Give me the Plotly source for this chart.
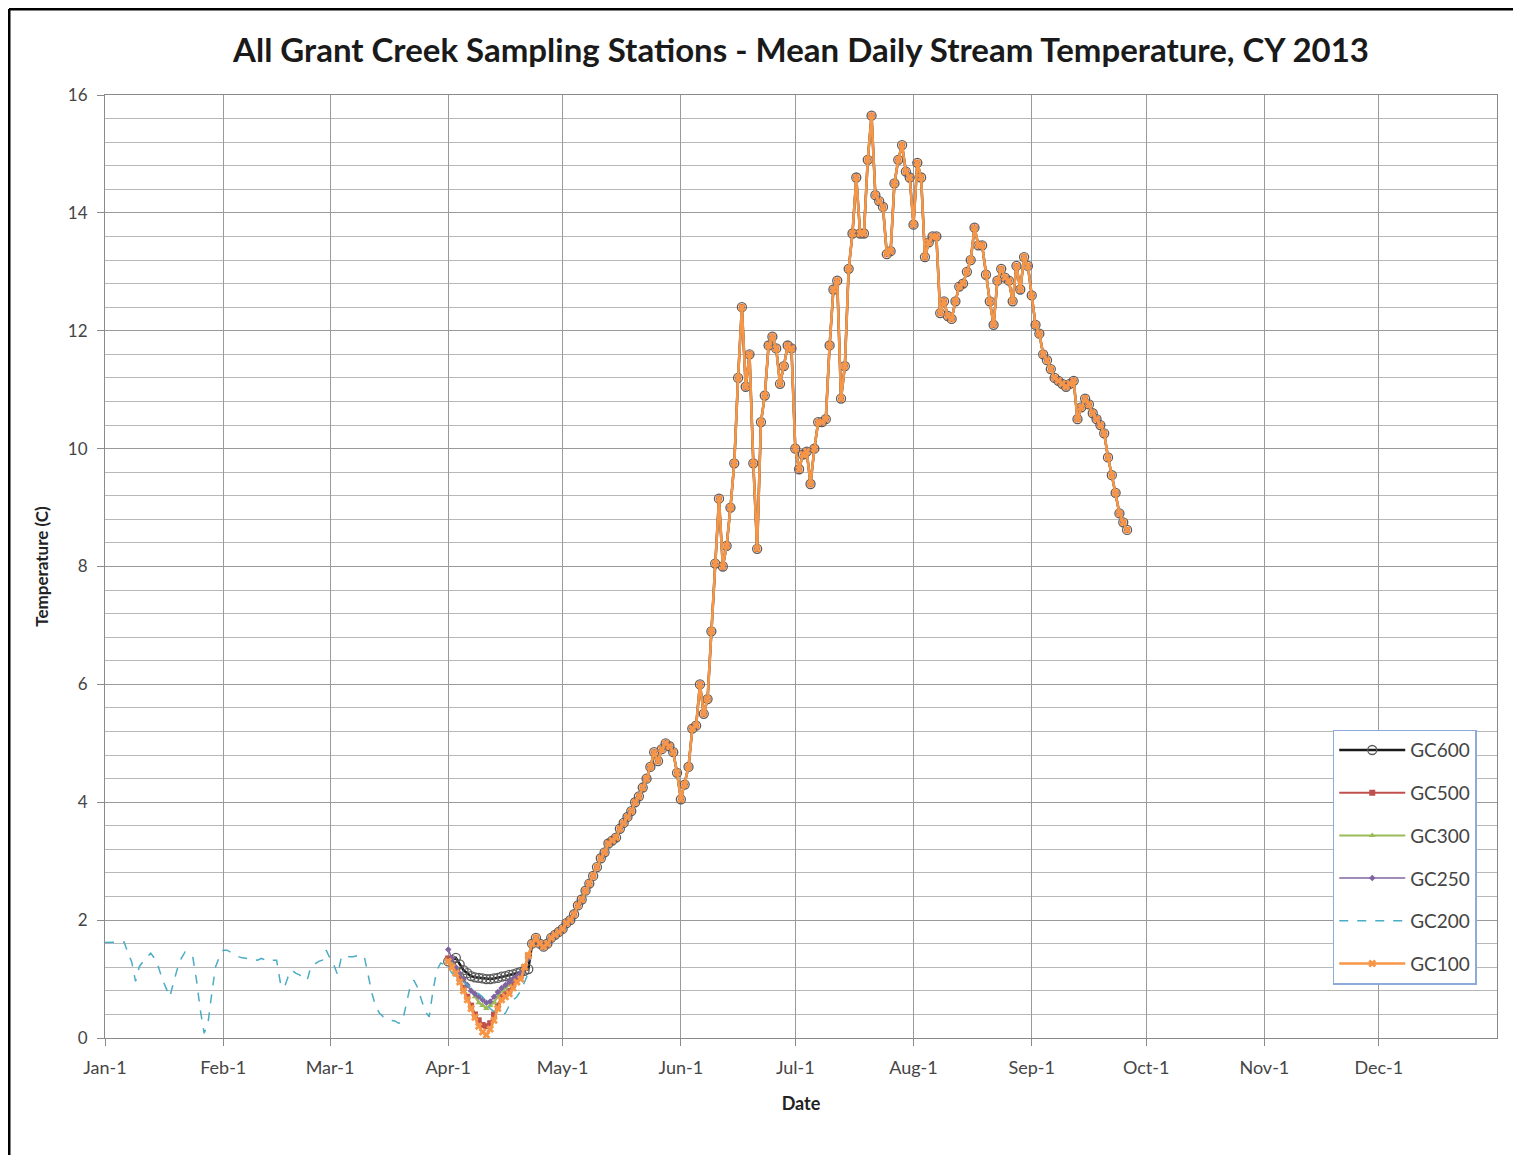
import pandas as pd
import plotly.graph_objects as go

# GC200 runs from Jan-1 to Apr-22 (dashed)
gc200_start = '2013-01-01'
gc200_vals = [1.62, 1.62, 1.62, 1.62, 1.62, 1.63, 1.45, 1.29, 0.96, 1.21,
              1.30, 1.38, 1.44, 1.35, 1.21, 1.00, 0.85, 0.70, 0.95, 1.18,
              1.35, 1.46, 1.42, 1.38, 0.98, 0.47, 0.08, 0.25, 0.76, 1.21,
              1.38, 1.49, 1.49, 1.45, 1.41, 1.38, 1.36, 1.35, 1.34, 1.33,
              1.32, 1.35, 1.32, 1.30, 1.32, 1.32, 0.93, 0.85, 1.04, 1.15,
              1.10, 1.07, 1.02, 0.98, 1.21, 1.25, 1.30, 1.32, 1.49, 1.35,
              1.24, 1.07, 1.38, 1.40, 1.38, 1.38, 1.40, 1.41, 1.38, 1.07,
              0.76, 0.53, 0.42, 0.36, 0.33, 0.30, 0.29, 0.25, 0.28, 0.55,
              0.87, 0.98, 0.85, 0.64, 0.45, 0.36, 0.80, 1.15, 1.27, 1.25,
              1.20, 1.10, 1.05, 1.00, 0.95, 0.90, 0.85, 0.80, 0.75, 0.70,
              0.60, 0.50, 0.45, 0.42, 0.40, 0.42, 0.55, 0.64, 0.70, 0.80,
              0.95, 1.10]

# early April (Apr-1 .. Apr-22) differs by station
april_start = '2013-04-01'
gc600_april = [1.30, 1.32, 1.36, 1.25, 1.15, 1.10, 1.05, 1.03, 1.02, 1.01, 1.00,
               1.00, 1.01, 1.02, 1.04, 1.05, 1.07, 1.08, 1.10, 1.12, 1.14, 1.17]
gc500_april = [1.35, 1.25, 1.15, 1.00, 0.85, 0.70, 0.55, 0.40, 0.30, 0.22, 0.20,
               0.25, 0.40, 0.55, 0.70, 0.75, 0.80, 0.90, 1.00, 1.05, 1.20, 1.40]
gc300_april = [1.30, 1.25, 1.20, 1.10, 1.00, 0.90, 0.80, 0.70, 0.60, 0.55, 0.50,
               0.55, 0.60, 0.70, 0.80, 0.85, 0.90, 1.00, 1.05, 1.10, 1.20, 1.35]
gc250_april = [1.50, 1.35, 1.20, 1.10, 1.00, 0.90, 0.80, 0.75, 0.70, 0.65, 0.60,
               0.62, 0.70, 0.78, 0.85, 0.90, 0.95, 1.00, 1.05, 1.10, 1.20, 1.35]
gc100_april = [1.30, 1.20, 1.10, 0.95, 0.80, 0.65, 0.50, 0.35, 0.20, 0.10, 0.05,
               0.15, 0.30, 0.50, 0.65, 0.70, 0.75, 0.85, 0.95, 1.00, 1.20, 1.40]

# from Apr-23 on the stations read the same
summer_start = '2013-04-23'
summer_vals = [1.60, 1.70, 1.60, 1.55, 1.60, 1.70, 1.75, 1.80,          # Apr 23-30
               1.85, 1.95, 2.00, 2.10, 2.25, 2.35, 2.50, 2.62, 2.75, 2.90,  # May
               3.05, 3.15, 3.30, 3.35, 3.40, 3.55, 3.65, 3.75, 3.85, 4.00,
               4.10, 4.25, 4.40, 4.60, 4.85, 4.70, 4.90, 5.00, 4.95, 4.85,
               4.50,
               4.05, 4.30, 4.60, 5.25, 5.30, 6.00, 5.50, 5.75, 6.90, 8.05,  # Jun
               9.15, 8.00, 8.35, 9.00, 9.75, 11.20, 12.40, 11.05, 11.60, 9.75,
               8.30, 10.45, 10.90, 11.75, 11.90, 11.70, 11.10, 11.40, 11.75, 11.70,
               10.00, 9.65, 9.90, 9.95, 9.40, 10.00, 10.45, 10.45, 10.50, 11.75,  # Jul
               12.70, 12.85, 10.85, 11.40, 13.05, 13.65, 14.60, 13.65, 13.65, 14.90,
               15.65, 14.30, 14.20, 14.10, 13.30, 13.35, 14.50, 14.90, 15.15, 14.70,
               14.60,
               13.80, 14.85, 14.60, 13.25, 13.50, 13.60, 13.60, 12.30, 12.50, 12.25,  # Aug
               12.20, 12.50, 12.75, 12.80, 13.00, 13.20, 13.75, 13.45, 13.45, 12.95,
               12.50, 12.10, 12.85, 13.05, 12.90, 12.85, 12.50, 13.10, 12.70, 13.25,
               13.10,
               12.60, 12.10, 11.95, 11.60, 11.50, 11.35, 11.20, 11.15, 11.10, 11.05,  # Sep
               11.10, 11.15, 10.50, 10.70, 10.85, 10.75, 10.60, 10.50, 10.40, 10.26,
               9.85, 9.55, 9.25, 8.90, 8.75, 8.62]

month_ticks = pd.date_range('2013-01-01', periods=12, freq='MS')

stations = ['GC600', 'GC500', 'GC300', 'GC250', 'GC200', 'GC100']


def station_series(april):
    d = list(pd.date_range(april_start, periods=len(april))) + \
        list(pd.date_range(summer_start, periods=len(summer_vals)))
    return d, april + summer_vals


fig = go.Figure()

x, y = station_series(gc600_april)
fig.add_trace(go.Scatter(x=x, y=y, name='GC600', mode='lines+markers',
                         line=dict(color='#1a1a1a', width=2.5),
                         marker=dict(symbol='circle-open', size=9, color='#5a5a5a',
                                     line=dict(width=1.3))))
x, y = station_series(gc500_april)
fig.add_trace(go.Scatter(x=x, y=y, name='GC500', mode='lines+markers',
                         line=dict(color='#C0504D', width=2),
                         marker=dict(symbol='square', size=6, color='#C0504D')))
x, y = station_series(gc300_april)
fig.add_trace(go.Scatter(x=x, y=y, name='GC300', mode='lines+markers',
                         line=dict(color='#9BBB59', width=2),
                         marker=dict(symbol='triangle-up', size=6, color='#9BBB59')))
x, y = station_series(gc250_april)
fig.add_trace(go.Scatter(x=x, y=y, name='GC250', mode='lines+markers',
                         line=dict(color='#8064A2', width=1.5),
                         marker=dict(symbol='diamond', size=5, color='#8064A2')))
fig.add_trace(go.Scatter(x=pd.date_range(gc200_start, periods=len(gc200_vals)), y=gc200_vals,
                         name='GC200', mode='lines',
                         line=dict(color='#4BACC6', width=1.5, dash='dash')))
x, y = station_series(gc100_april)
fig.add_trace(go.Scatter(x=x, y=y, name='GC100', mode='lines+markers',
                         line=dict(color='#F79646', width=2.5),
                         marker=dict(symbol='x', size=7, color='#F79646')))

for i, tr in enumerate(fig.data):
    tr.legendgroup = stations[i]

# the page adds 8px of body margin, so the plot box is set 8px up/left here
font = 'Lato, Open Sans, sans-serif'
fig.update_layout(
    width=1521, height=1155,
    margin=dict(l=97, r=32, t=87, b=125),
    paper_bgcolor='white', plot_bgcolor='white',
    font=dict(family=font, size=17, color='#454545'),
    title=dict(text='<b>All Grant Creek Sampling Stations - Mean Daily Stream Temperature, CY 2013</b>',
               x=0.5, xref='paper', xanchor='center', y=1 - 42 / 1155, yanchor='middle',
               font=dict(family=font, size=33, color='#1a1a1a')),
    legend=dict(x=0.882, y=0.327, xanchor='left', yanchor='top',
                bordercolor='#8eaadb', borderwidth=1.5, bgcolor='white',
                tracegroupgap=15, font=dict(size=19, color='#454545'),
                itemwidth=66),
    showlegend=True,
)

fig.update_xaxes(type='date', range=['2013-01-01', '2014-01-01'],
                 tickvals=month_ticks, tickformat='%b-%-d',
                 tickfont=dict(size=18),
                 showgrid=True, gridcolor='#9a9a9a', gridwidth=1,
                 showline=True, linecolor='#8a8a8a', linewidth=1, mirror=True,
                 ticks='outside', ticklen=7, tickcolor='#8a8a8a', ticklabelstandoff=6,
                 title=dict(text='<b>Date</b>', standoff=20, font=dict(size=18, color='#222222')))
fig.update_yaxes(range=[0, 16], dtick=2, tick0=0,
                 showgrid=True, gridcolor='#9a9a9a', gridwidth=1,
                 minor=dict(dtick=0.4, showgrid=True, gridcolor='#b8b8b8', gridwidth=1),
                 showline=True, linecolor='#8a8a8a', linewidth=1, mirror=True,
                 ticks='outside', ticklen=7, tickcolor='#8a8a8a', ticklabelstandoff=6,
                 zeroline=False,
                 title=dict(text='<b>Temperature (C)</b>', standoff=14, font=dict(size=17, color='#222222')))

# the black frame on the left and top edge of the picture
x_left = (1 - 97) / 1392
y_top = (1155 - 125 - 1) / 943
fig.add_shape(type='line', xref='paper', yref='paper',
              x0=x_left, x1=x_left, y0=y_top, y1=-125 / 943,
              line=dict(color='black', width=3))
fig.add_shape(type='line', xref='paper', yref='paper',
              x0=x_left, x1=(1521 - 97) / 1392, y0=y_top, y1=y_top,
              line=dict(color='black', width=3))

fig.write_html('out.html')
